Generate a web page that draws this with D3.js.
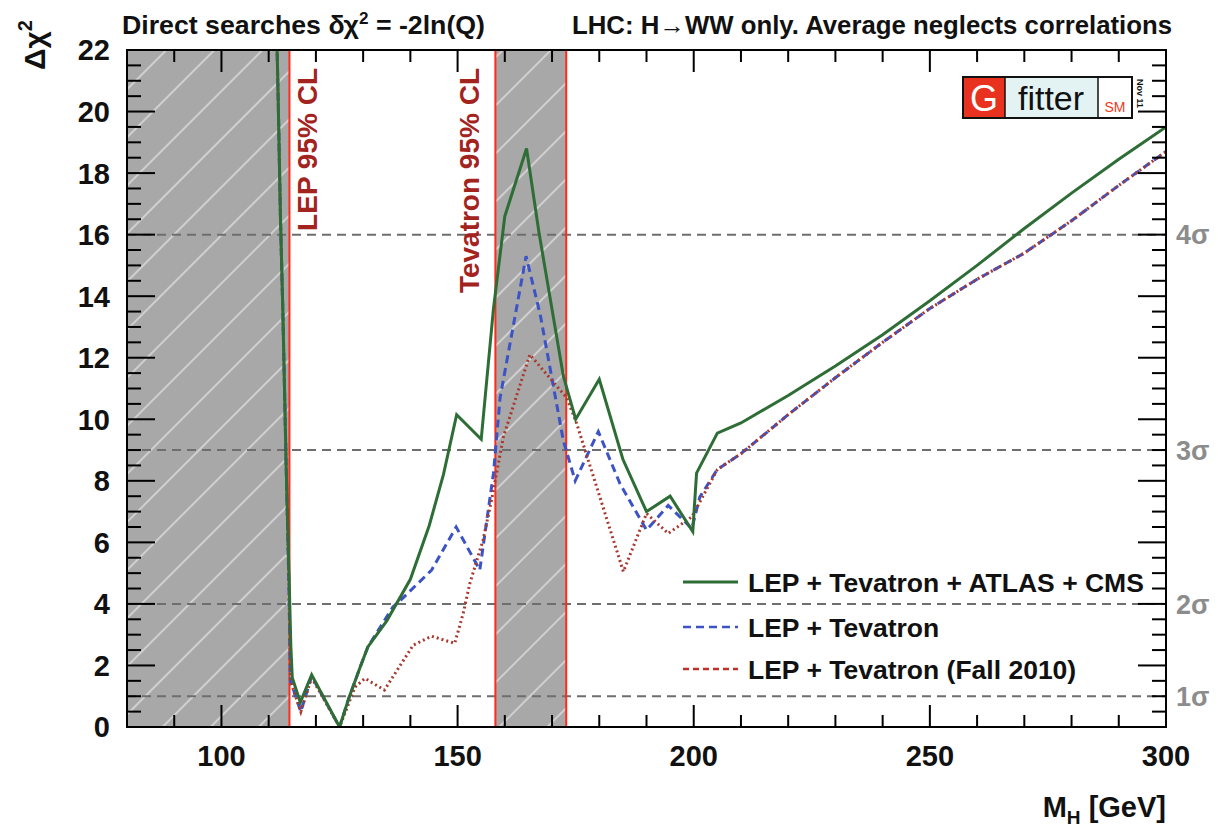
<!DOCTYPE html>
<html>
<head>
<meta charset="utf-8">
<script src="https://cdn.jsdelivr.net/npm/d3@7"></script>
<style>
body { margin: 0; background: #fff; }
text { font-family: "Liberation Sans", Arial, sans-serif; }
</style>
</head>
<body>
<svg id="chart" width="1221" height="829"></svg>
<script>
var width = 1221,
  height = 829,
  margin = { top: 50, right: 55, bottom: 102, left: 127 };

// Higgs mass points (GeV) and delta chi2 for each curve
var massLHC = [111.5, 112, 112.5, 113, 113.7, 114.3, 114.7, 115, 116.7, 119.1, 125, 127, 129.5, 131, 135, 140, 144, 147, 149.8, 155, 157.6, 160, 164.6, 167.2, 172.4, 175, 180, 185, 190, 195, 199.8, 200.6, 205, 210, 220, 230, 240, 250, 260, 270, 280, 290, 300];
var chiLHC = [24, 20.5, 16.5, 13.5, 8.5, 5.0, 2.6, 1.6, 0.8, 1.7, 0, 0.95, 2.0, 2.6, 3.45, 4.8, 6.55, 8.2, 10.15, 9.35, 13.6, 16.6, 18.8, 16.1, 11.4, 10.0, 11.3, 8.7, 7.0, 7.5, 6.35, 8.25, 9.55, 9.88, 10.77, 11.73, 12.75, 13.85, 15.0, 16.2, 17.35, 18.45, 19.5];

var massTev = [111.5, 112, 112.5, 113, 113.7, 114.3, 114.6, 116.8, 119.1, 125, 127, 129.5, 131, 136.3, 137.8, 144.5, 149.7, 154.7, 157.6, 159, 164.5, 167.5, 172.4, 174.9, 179.8, 184.4, 190, 194.6, 199.6, 201.3, 205, 210, 220, 230, 240, 250, 260, 270, 280, 290, 300];
var chiTev = [24, 20.5, 16.5, 13.5, 8.5, 4.5, 1.5, 0.5, 1.65, 0, 0.95, 2.0, 2.6, 3.9, 4.1, 5.1, 6.5, 5.1, 8.25, 10.7, 15.3, 13.4, 9.3, 8.0, 9.6, 7.9, 6.4, 7.2, 6.45, 7.48, 8.37, 8.88, 10.15, 11.35, 12.5, 13.6, 14.55, 15.4, 16.45, 17.6, 18.7];

var massFall = [111.5, 112, 112.5, 113, 113.7, 114.3, 114.6, 116.8, 119.1, 125, 128.3, 130.4, 134.5, 140.6, 144.5, 149.4, 151.2, 152.6, 155.4, 157.2, 159.7, 165.3, 173.1, 175.2, 185.1, 190, 194.6, 199.6, 205, 210, 220, 230, 240, 250, 260, 270, 280, 290, 300];
var chiFall = [24, 20.5, 16.5, 13.5, 8.5, 4.5, 1.5, 0.5, 1.6, 0, 1.3, 1.58, 1.2, 2.66, 2.95, 2.72, 3.7, 4.67, 6.08, 7.38, 9.43, 12.1, 10.7, 9.87, 5.05, 6.94, 6.29, 6.83, 8.37, 8.88, 10.15, 11.35, 12.5, 13.6, 14.55, 15.4, 16.45, 17.6, 18.7];

// excluded regions (95% CL) and their edges
var excludedFrom = [80, 158];
var excludedTo = [114.4, 173];
var limitEdges = [114.4, 158, 173];
var limitLabels = ["LEP 95% CL", "Tevatron 95% CL"];
var limitLabelMass = [114.4, 158];

var sigmaValues = [1, 4, 9, 16];
var sigmaLabels = ["1σ", "2σ", "3σ", "4σ"];

var xMajor = [100, 150, 200, 250, 300];
var yMajor = [0, 2, 4, 6, 8, 10, 12, 14, 16, 18, 20, 22];

var legendLabels = ["LEP + Tevatron + ATLAS + CMS", "LEP + Tevatron", "LEP + Tevatron (Fall 2010)"];

var svg = d3.select("#chart");

var x = d3.scaleLinear().domain([80, 300]).range([margin.left, width - margin.right]);
var y = d3.scaleLinear().domain([0, 22]).range([height - margin.bottom, margin.top]);

var x0 = x.range()[0], x1 = x.range()[1], y0 = y.range()[0], y1 = y.range()[1];

var defs = svg.append("defs");
defs.append("clipPath").attr("id", "plot-clip")
  .append("rect").attr("x", x0).attr("y", y1).attr("width", x1 - x0).attr("height", y0 - y1);

var hatch = defs.append("pattern")
  .attr("id", "hatch")
  .attr("patternUnits", "userSpaceOnUse")
  .attr("width", 34).attr("height", 34)
  .attr("patternTransform", "rotate(45)");
hatch.append("rect").attr("width", 34).attr("height", 34).attr("fill", "#a8a8a8");
hatch.append("line").attr("x1", 17).attr("x2", 17).attr("y1", 0).attr("y2", 34)
  .attr("stroke", "#dadada").attr("stroke-width", 1.6);

// excluded bands
svg.selectAll(".band")
  .data(d3.zip(excludedFrom, excludedTo))
  .enter().append("rect")
  .attr("class", "band")
  .attr("x", function (d) { return x(d[0]); })
  .attr("width", function (d) { return x(d[1]) - x(d[0]); })
  .attr("y", y1)
  .attr("height", y0 - y1)
  .attr("fill", "url(#hatch)");

// sigma lines
svg.selectAll(".sigma")
  .data(sigmaValues)
  .enter().append("line")
  .attr("class", "sigma")
  .attr("x1", x0).attr("x2", x1)
  .attr("y1", function (d) { return y(d); })
  .attr("y2", function (d) { return y(d); })
  .attr("stroke", "#6e6e6e")
  .attr("stroke-width", 2)
  .attr("stroke-dasharray", "9,6");

svg.selectAll(".sigma-label")
  .data(sigmaValues)
  .enter().append("text")
  .attr("class", "sigma-label")
  .attr("x", x1 + 10)
  .attr("y", function (d) { return y(d); })
  .attr("dy", "0.36em")
  .attr("font-size", 27)
  .attr("font-weight", "bold")
  .attr("fill", "#8c8c8c")
  .text(function (d, i) { return sigmaLabels[i]; });

// limit edges
svg.selectAll(".edge")
  .data(limitEdges)
  .enter().append("line")
  .attr("class", "edge")
  .attr("x1", function (d) { return x(d); })
  .attr("x2", function (d) { return x(d); })
  .attr("y1", y1).attr("y2", y0)
  .attr("stroke", "#ff2a1a")
  .attr("stroke-width", 2);

svg.selectAll(".limit-label")
  .data(limitLabels)
  .enter().append("text")
  .attr("class", "limit-label")
  .attr("transform", function (d, i) {
    return "translate(" + (x(limitLabelMass[i]) + (i === 0 ? 28 : -16)) + "," + (y1 + 18) + ") rotate(-90)";
  })
  .attr("text-anchor", "end")
  .attr("font-size", 28)
  .attr("font-weight", "bold")
  .attr("fill", "#a3241e")
  .text(function (d) { return d; });

// curves
var line = d3.line()
  .x(function (d) { return x(d[0]); })
  .y(function (d) { return y(d[1]); });

var curves = svg.append("g").attr("clip-path", "url(#plot-clip)");

curves.append("path")
  .datum(d3.zip(massTev, chiTev))
  .attr("d", line)
  .attr("fill", "none")
  .attr("stroke", "#3c53c6")
  .attr("stroke-width", 3)
  .attr("stroke-dasharray", "8,5");

curves.append("path")
  .datum(d3.zip(massFall, chiFall))
  .attr("d", line)
  .attr("fill", "none")
  .attr("stroke", "#a8392e")
  .attr("stroke-width", 3)
  .attr("stroke-dasharray", "2,3");

curves.append("path")
  .datum(d3.zip(massLHC, chiLHC))
  .attr("d", line)
  .attr("fill", "none")
  .attr("stroke", "#2e6e36")
  .attr("stroke-width", 3);

// ticks, pointing inward on all four sides
function minorOf(lo, hi, step, majors) {
  return d3.range(lo, hi + step / 2, step).filter(function (v) {
    return majors.indexOf(Math.round(v * 100) / 100) === -1;
  });
}
var xMinor = minorOf(80, 300, 10, xMajor);
var yMinor = minorOf(0, 22, 0.5, yMajor);

var ticks = svg.append("g").attr("stroke", "#000").attr("stroke-width", 2);

function xTicks(values, len) {
  ticks.selectAll(null).data(values).enter().append("line")
    .attr("x1", function (d) { return x(d); }).attr("x2", function (d) { return x(d); })
    .attr("y1", y0).attr("y2", y0 - len);
  ticks.selectAll(null).data(values).enter().append("line")
    .attr("x1", function (d) { return x(d); }).attr("x2", function (d) { return x(d); })
    .attr("y1", y1).attr("y2", y1 + len);
}
function yTicks(values, len) {
  ticks.selectAll(null).data(values).enter().append("line")
    .attr("y1", function (d) { return y(d); }).attr("y2", function (d) { return y(d); })
    .attr("x1", x0).attr("x2", x0 + len);
  ticks.selectAll(null).data(values).enter().append("line")
    .attr("y1", function (d) { return y(d); }).attr("y2", function (d) { return y(d); })
    .attr("x1", x1).attr("x2", x1 - len);
}
xTicks(xMajor, 22);
xTicks(xMinor, 12);
yTicks(yMajor, 28);
yTicks(yMinor, 14);

svg.append("g")
  .selectAll("text")
  .data(xMajor)
  .enter().append("text")
  .attr("x", function (d) { return x(d); })
  .attr("y", y0 + 39)
  .attr("text-anchor", "middle")
  .attr("font-size", 29).attr("font-weight", "bold").attr("fill", "#111")
  .text(d3.format("d"));

svg.append("g")
  .selectAll("text")
  .data(yMajor)
  .enter().append("text")
  .attr("x", x0 - 17)
  .attr("y", function (d) { return y(d); })
  .attr("dy", "0.36em")
  .attr("text-anchor", "end")
  .attr("font-size", 29).attr("font-weight", "bold").attr("fill", "#111")
  .text(d3.format("d"));

svg.append("rect")
  .attr("x", x0).attr("y", y1)
  .attr("width", x1 - x0).attr("height", y0 - y1)
  .attr("fill", "none").attr("stroke", "#000").attr("stroke-width", 2);

// axis titles
var xt = svg.append("text")
  .attr("x", x1).attr("y", 817)
  .attr("text-anchor", "end")
  .attr("font-size", 29).attr("font-weight", "bold").attr("fill", "#111");
xt.append("tspan").text("M");
xt.append("tspan").attr("font-size", 19).attr("dy", 7).text("H");
xt.append("tspan").attr("dy", -7).text(" [GeV]");

var yt = svg.append("text")
  .attr("transform", "translate(45,20) rotate(-90)")
  .attr("text-anchor", "end")
  .attr("font-size", 30).attr("font-weight", "bold").attr("fill", "#111");
yt.append("tspan").text("Δχ");
yt.append("tspan").attr("font-size", 20).attr("dy", -13).text("2");

// header texts
var t1 = svg.append("text")
  .attr("x", 122).attr("y", 34)
  .attr("font-size", 25).attr("font-weight", "bold").attr("fill", "#111")
  .attr("textLength", 363).attr("lengthAdjust", "spacingAndGlyphs");
t1.append("tspan").text("Direct searches δχ");
t1.append("tspan").attr("font-size", 16).attr("dy", -10).text("2");
t1.append("tspan").attr("dy", 10).text(" = -2ln(Q)");

svg.append("text")
  .attr("x", 572).attr("y", 34)
  .attr("font-size", 25).attr("font-weight", "bold").attr("fill", "#111")
  .attr("textLength", 600).attr("lengthAdjust", "spacingAndGlyphs")
  .text("LHC: H→WW only. Average neglects correlations");

// legend
var legendRowY = [582, 627, 669];
var legendStroke = ["#2e6e36", "#3c53c6", "#c0302a"];
var legendDash = [null, "8,5", "6,4"];
var legend = svg.selectAll(".legend")
  .data(legendLabels)
  .enter().append("g")
  .attr("class", "legend")
  .attr("transform", function (d, i) { return "translate(683," + legendRowY[i] + ")"; });

legend.append("line")
  .attr("x1", 0).attr("x2", 55).attr("y1", 0).attr("y2", 0)
  .attr("stroke", function (d, i) { return legendStroke[i]; })
  .attr("stroke-width", function (d, i) { return i === 0 ? 3 : 2.5; })
  .attr("stroke-dasharray", function (d, i) { return legendDash[i]; });

legend.append("text")
  .attr("x", 65).attr("dy", "0.36em")
  .attr("font-size", 26.5).attr("font-weight", "bold").attr("fill", "#111")
  .text(function (d) { return d; });

// Gfitter logo
var logo = svg.append("g").attr("transform", "translate(963,77)");
logo.append("rect").attr("width", 42).attr("height", 41).attr("fill", "#e8321f");
logo.append("rect").attr("x", 42).attr("width", 93).attr("height", 41).attr("fill", "#e3f3f3");
logo.append("rect").attr("x", 135).attr("width", 34).attr("height", 41).attr("fill", "#fff");
logo.append("rect").attr("width", 169).attr("height", 41).attr("fill", "none").attr("stroke", "#111").attr("stroke-width", 2);
logo.append("line").attr("x1", 42).attr("x2", 42).attr("y1", 0).attr("y2", 41).attr("stroke", "#111").attr("stroke-width", 1.5);
logo.append("line").attr("x1", 135).attr("x2", 135).attr("y1", 0).attr("y2", 41).attr("stroke", "#111").attr("stroke-width", 1.5);
logo.append("text").attr("x", 21).attr("y", 34).attr("text-anchor", "middle")
  .attr("font-size", 36).attr("fill", "#fff").text("G");
logo.append("text").attr("x", 88).attr("y", 33).attr("text-anchor", "middle")
  .attr("font-size", 34).attr("fill", "#111").text("fitter");
logo.append("text").attr("x", 152).attr("y", 35).attr("text-anchor", "middle")
  .attr("font-size", 14).attr("fill", "#f03a20").text("SM");
logo.append("text").attr("transform", "translate(174,2) rotate(90)")
  .attr("font-size", 9).attr("font-weight", "bold").attr("fill", "#111").text("Nov 11");
</script>
</body>
</html>
